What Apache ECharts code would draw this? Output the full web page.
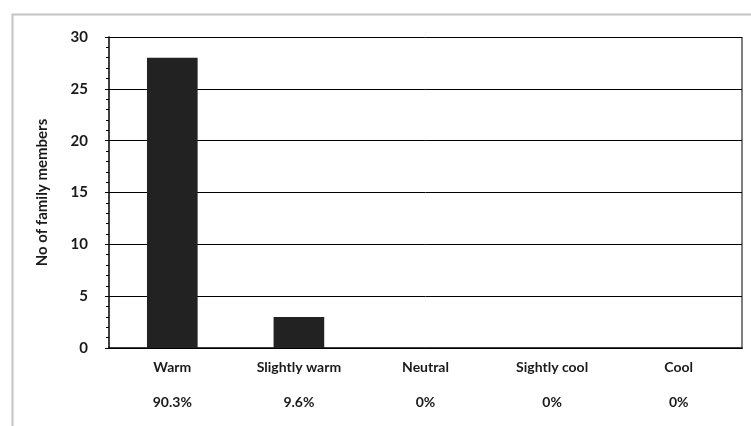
<!DOCTYPE html>
<html><head><meta charset="utf-8">
<script src="https://cdn.jsdelivr.net/npm/echarts@6/dist/echarts.min.js"></script>
<style>html,body{margin:0;padding:0;background:#fff}#c{width:751px;height:426px}</style>
</head><body><div id="c"></div>
<script>
const categories = ["Warm", "Slightly warm", "Neutral", "Sightly cool", "Cool"];
const percentLabels = ["90.3%", "9.6%", "0%", "0%", "0%"];
const counts = [28, 3, 0, 0, 0];
const yTicks = [0, 5, 10, 15, 20, 25, 30];

const chart = echarts.init(document.getElementById('c'), null, {renderer: 'canvas'});
chart.setOption({
  animation: false,
  backgroundColor: '#fff',
  graphic: [{
    type: 'rect', left: 10, top: 12, silent: true,
    shape: {width: 900, height: 600},
    style: {fill: 'none', stroke: '#c4c4c4', lineWidth: 2}
  }, {
    type: 'line', silent: true,
    shape: {x1: 742, y1: 37, x2: 742, y2: 349},
    style: {stroke: '#808080', lineWidth: 2}
  }],
  grid: {left: 109, right: 9, top: 37, bottom: 78, containLabel: false},
  xAxis: {
    type: 'category', data: categories,
    axisLine: {lineStyle: {color: '#000', width: 1.5}},
    axisTick: {alignWithLabel: true, length: 5, lineStyle: {color: '#000'}},
    axisLabel: {
      interval: 0, margin: 11, color: '#1a1a1a',
      fontFamily: 'Lato', fontSize: 14, fontWeight: 'bold', lineHeight: 17.5,
      formatter: (v, i) => v + '\n\n' + percentLabels[i]
    }
  },
  yAxis: {
    type: 'value', min: yTicks[0], max: yTicks[yTicks.length - 1], interval: 5,
    name: 'No of family members', nameLocation: 'middle', nameGap: 59,
    nameTextStyle: {fontFamily: 'Lato', fontSize: 15, fontWeight: 'bold', color: '#1a1a1a'},
    axisLine: {show: true, lineStyle: {color: '#000', width: 1.5}},
    axisTick: {show: true, length: 4, lineStyle: {color: '#000'}},
    minorTick: {show: true, splitNumber: 5, length: 3, lineStyle: {color: '#000'}},
    axisLabel: {margin: 21, color: '#1a1a1a', fontFamily: 'Lato', fontSize: 15, fontWeight: 'bold'},
    splitLine: {show: true, lineStyle: {color: '#000', width: 1}}
  },
  series: [{
    type: 'bar', data: counts, barWidth: '40%',
    itemStyle: {color: '#222222', borderWidth: 0}
  }]
});
</script></body></html>
